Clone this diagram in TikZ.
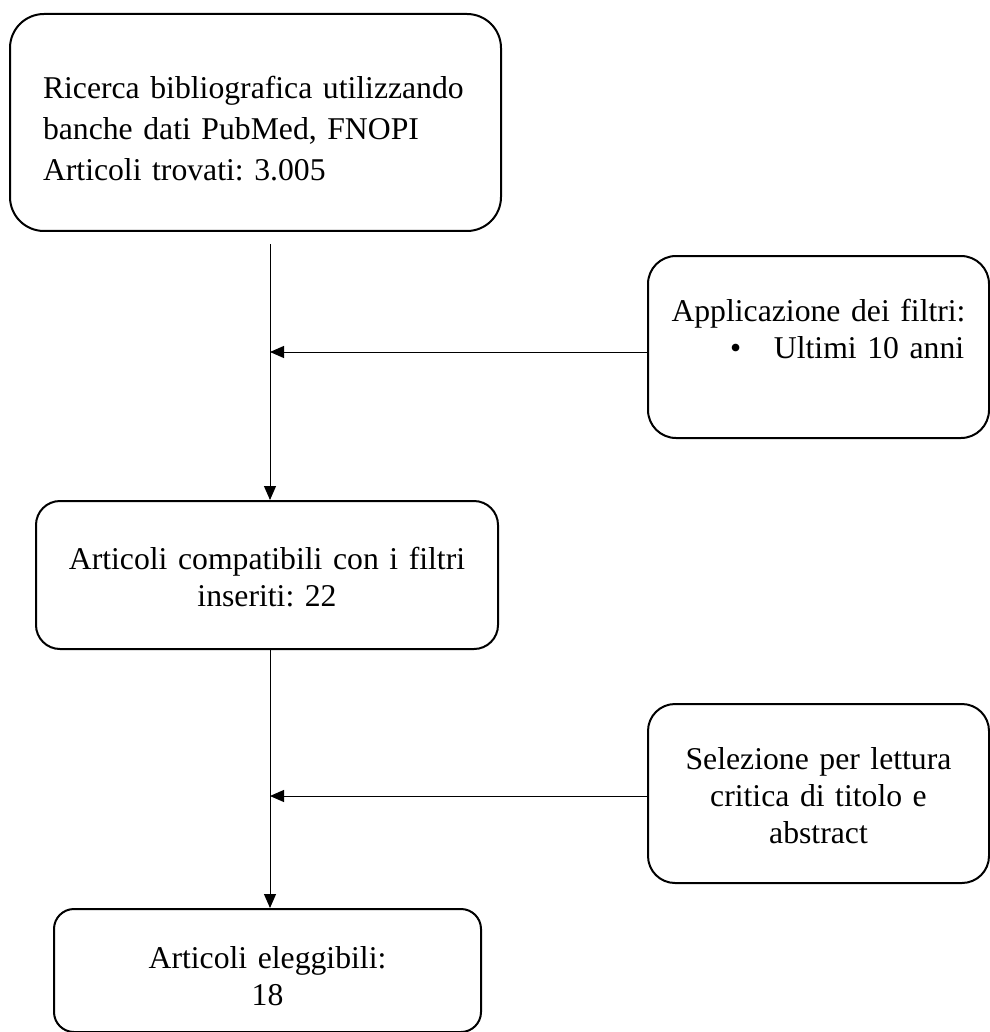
\documentclass[tikz,border=0pt]{standalone}
\usepackage{fontspec}
\setmainfont{Liberation Serif}
\usetikzlibrary{arrows.meta}
\frenchspacing

\begin{document}
\begin{tikzpicture}[x=1pt, y=-1pt,
          > = {Triangle[length=14pt,width=12pt]},
  box/.style = {rectangle, draw, line width=2pt, anchor=north west,
                inner ysep=0pt, inner xsep=20pt,
                font=\fontsize{31.7pt}{37pt}\selectfont},
 link/.style = {line width=1pt}
                        ]
\useasboundingbox (0,0) rectangle (989,1032);
\coordinate (spine) at (270,0);
\node (search)[box, rounded corners=34pt, align=left, text width=425pt,
               inner xsep=33pt, text height=85pt, text depth=132pt,
               font=\fontsize{31.7pt}{41pt}\selectfont] at (9,13)
      {Ricerca bibliografica utilizzando\\banche dati PubMed, FNOPI\\Articoli trovati: 3.005};
\node (filters)[box, rounded corners=28pt, align=center, text width=301pt,
                text height=65pt, text depth=117pt] at (647,255)
      {Applicazione dei filtri:\\\makebox[289pt][l]{\hspace*{56pt}\makebox[44pt][l]{\textbullet}Ultimi 10 anni}};
\node (compat)[box, rounded corners=24pt, align=center, text width=422pt,
               text height=68pt, text depth=80pt] at (35,500)
      {Articoli compatibili con i filtri\\inseriti: 22};
\node (select)[box, rounded corners=27pt, align=center, text width=301pt,
               text height=65pt, text depth=114pt] at (647,703)
      {Selezione per lettura\\critica di titolo e\\abstract};
\node (eligible)[box, rounded corners=20pt, align=center, text width=387pt,
                 text height=59pt, text depth=64pt] at (53,908)
      {Articoli eleggibili:\\18};
% main flow
\draw[->, link] (search.south -| spine) ++(0,12) -- (compat.north -| spine);
\draw[->, link] (compat.south -| spine) -- (eligible.north -| spine);
% side inputs
\draw[->, link] ([yshift=-5pt]filters.west) -- ([yshift=-5pt]filters.west -| spine);
\draw[->, link] ([yshift=-2.5pt]select.west) -- ([yshift=-2.5pt]select.west -| spine);
\end{tikzpicture}
\end{document}
